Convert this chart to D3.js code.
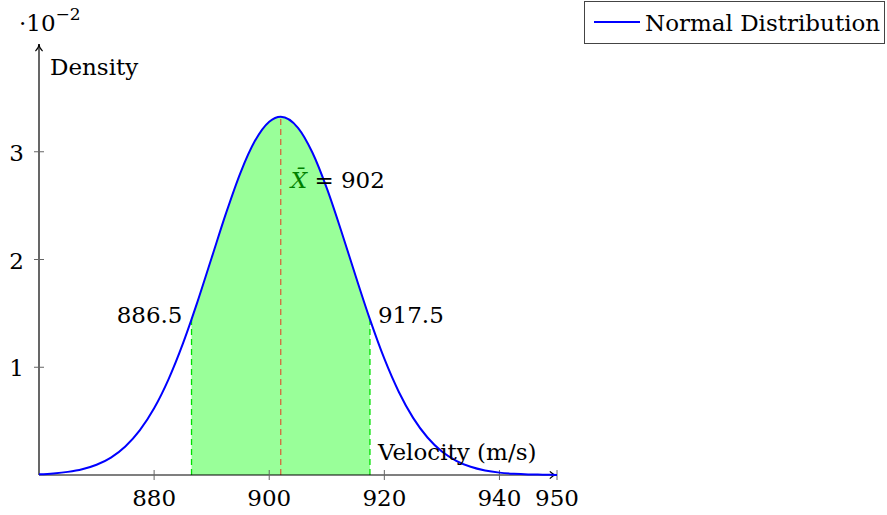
<!DOCTYPE html>
<html>
<head>
<meta charset="utf-8">
<script src="https://cdn.jsdelivr.net/npm/d3@7"></script>
<style>
  body { margin: 0; background: #fff; }
  text { font-family: "DejaVu Serif", serif; font-size: 23px; fill: #000; }
</style>
</head>
<body>
<svg width="887" height="515"></svg>
<script>
// values (density in units of 10^-2)
const velocity = [860, 862.5, 865, 867.5, 870, 872.5, 875, 877.5, 880, 882.5, 885, 886.5, 887.5, 890, 892.5, 895, 897.5, 900, 902,
  905, 907.5, 910, 912.5, 915, 917.5, 920, 922.5, 925, 927.5, 930, 932.5, 935, 937.5, 940, 942.5, 945, 947.5, 950];
const density = [0.007, 0.015, 0.029, 0.053, 0.095, 0.162, 0.265, 0.414, 0.619, 0.888, 1.219, 1.444, 1.602, 2.016, 2.43, 2.805, 3.099, 3.279, 3.325,
  3.222, 2.993, 2.662, 2.267, 1.849, 1.444, 1.079, 0.773, 0.53, 0.348, 0.218, 0.132, 0.076, 0.042, 0.022, 0.011, 0.005, 0.003, 0.001];
const xTicks = [880, 900, 920, 940, 950];
const yTicks = [1, 2, 3];
const meanV = 902, meanD = 3.325;
const lowV = 886.5, highV = 917.5, edgeD = 1.444;

const points = velocity.map((v, i) => ({ v: v, d: density[i] }));

const svg = d3.select('svg');

const x = d3.scaleLinear().domain([860, 950]).range([39, 557]);
const y = d3.scaleLinear().domain([0, 4]).range([475, 44]);

svg.append('defs').append('clipPath').attr('id', 'band')
  .append('rect')
  .attr('x', x(lowV)).attr('y', 0)
  .attr('width', x(highV) - x(lowV)).attr('height', y(0));

svg.append('defs').append('marker')
  .attr('id', 'arrow').attr('viewBox', '0 0 10 10')
  .attr('refX', 9).attr('refY', 5)
  .attr('markerWidth', 9).attr('markerHeight', 9)
  .attr('markerUnits', 'userSpaceOnUse')
  .attr('orient', 'auto')
  .append('path')
  .attr('d', 'M1,1 Q5,5 9,5 Q5,5 1,9')
  .attr('fill', 'none').attr('stroke', '#000').attr('stroke-width', 1.2);

// shaded band
const area = d3.area().x(p => x(p.v)).y0(y(0)).y1(p => y(p.d)).curve(d3.curveMonotoneX);
svg.append('path').datum(points)
  .attr('d', area)
  .attr('fill', '#99ff99')
  .attr('clip-path', 'url(#band)');

// dashed verticals
svg.selectAll('.edge')
  .data([lowV, highV])
  .enter()
  .append('line')
  .attr('x1', d => x(d)).attr('x2', d => x(d))
  .attr('y1', y(0)).attr('y2', y(edgeD))
  .attr('stroke', '#00e000').attr('stroke-width', 1.3)
  .attr('stroke-dasharray', '6,4');

svg.append('line')
  .attr('x1', x(meanV)).attr('x2', x(meanV))
  .attr('y1', y(0)).attr('y2', y(meanD))
  .attr('stroke', 'red').attr('stroke-opacity', 0.6).attr('stroke-width', 1.3)
  .attr('stroke-dasharray', '6,4');

// axes
svg.append('line')
  .attr('x1', x(860)).attr('x2', x(950)).attr('y1', y(0)).attr('y2', y(0))
  .attr('stroke', '#000').attr('stroke-width', 1.2)
  .attr('marker-end', 'url(#arrow)');
svg.append('line')
  .attr('x1', x(860)).attr('x2', x(860)).attr('y1', y(0)).attr('y2', y(4))
  .attr('stroke', '#000').attr('stroke-width', 1.2)
  .attr('marker-end', 'url(#arrow)');

svg.selectAll('.xtick')
  .data(xTicks)
  .enter()
  .append('line')
  .attr('x1', d => x(d)).attr('x2', d => x(d))
  .attr('y1', y(0) - 5).attr('y2', y(0) + 5)
  .attr('stroke', '#666').attr('stroke-width', 1);
svg.selectAll('.xlab')
  .data(xTicks)
  .enter()
  .append('text')
  .attr('x', d => x(d)).attr('y', y(0) + 31)
  .attr('text-anchor', 'middle')
  .text(d => d);

svg.selectAll('.ytick')
  .data(yTicks)
  .enter()
  .append('line')
  .attr('x1', x(860) - 5).attr('x2', x(860) + 5)
  .attr('y1', d => y(d)).attr('y2', d => y(d))
  .attr('stroke', '#666').attr('stroke-width', 1);
svg.selectAll('.ylab')
  .data(yTicks)
  .enter()
  .append('text')
  .attr('x', x(860) - 15).attr('y', d => y(d) + 9)
  .attr('text-anchor', 'end')
  .text(d => d);

// curve
const line = d3.line().x(p => x(p.v)).y(p => y(p.d)).curve(d3.curveMonotoneX);
svg.append('path').datum(points)
  .attr('d', line)
  .attr('fill', 'none')
  .attr('stroke', '#0000ff').attr('stroke-width', 2);

// labels
const scaleLab = svg.append('text').attr('x', 19).attr('y', 31);
scaleLab.append('tspan').text('·10');
scaleLab.append('tspan').attr('dy', -11).attr('font-size', 17).text('−2');

svg.append('text').attr('x', 50).attr('y', 75).text('Density');
svg.append('text').attr('x', 378).attr('y', 460).text('Velocity (m/s)');

svg.append('text').attr('x', x(lowV) - 9).attr('y', y(edgeD) + 4)
  .attr('text-anchor', 'end').text(lowV);
svg.append('text').attr('x', x(highV) + 8).attr('y', y(edgeD) + 4)
  .text(highV);

const meanLab = svg.append('text').attr('x', x(meanV) + 10).attr('y', 188);
meanLab.append('tspan').attr('font-style', 'italic').style('fill', '#008000').text('X\u0304');
meanLab.append('tspan').text(' = ' + meanV);

// legend
svg.append('rect')
  .attr('x', 584.5).attr('y', 1.5).attr('width', 300).attr('height', 42)
  .attr('fill', '#fff').attr('stroke', '#444').attr('stroke-width', 1);
svg.append('line')
  .attr('x1', 594).attr('x2', 640).attr('y1', 22).attr('y2', 22)
  .attr('stroke', '#0000ff').attr('stroke-width', 2);
svg.append('text').attr('x', 645).attr('y', 31).text('Normal Distribution');
</script>
</body>
</html>
